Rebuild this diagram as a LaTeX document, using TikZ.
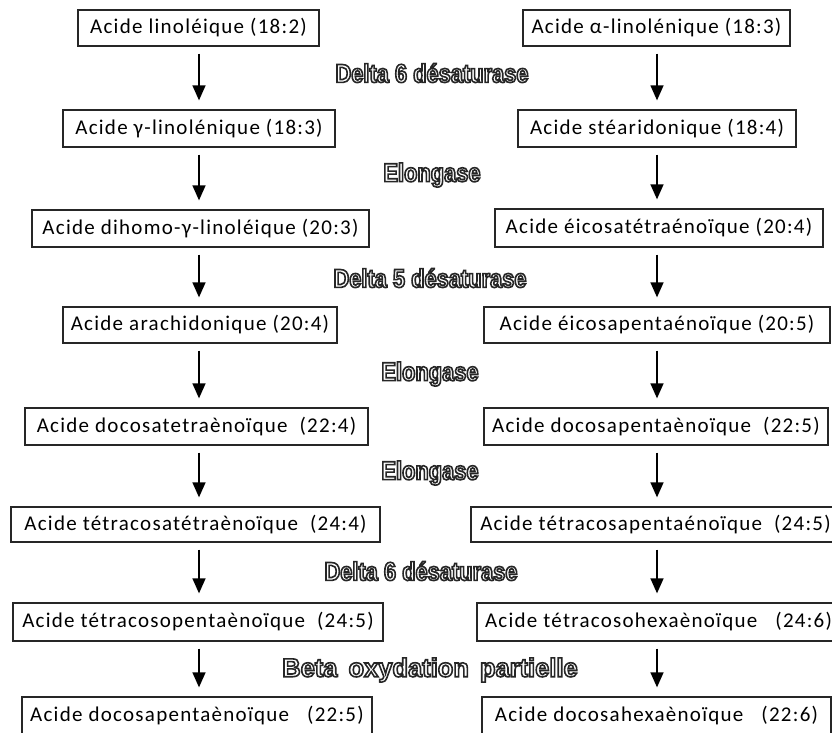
\documentclass[tikz,border=0pt]{standalone}
\usepackage{fontspec}
\usetikzlibrary{arrows.meta}
\setmainfont{Carlito}[LetterSpace=6]
\newfontfamily\enzfont{Liberation Sans}[FakeStretch=0.84]
\newfontfamily\enzfontwide{Liberation Sans}[FakeStretch=0.98]
\newcommand\enzlabel[1]{\special{pdf:literal direct 2 Tr 1.6 w 0.15 G 1 g}#1\special{pdf:literal direct 0 Tr 0 g 0 G 1 w}}
\tikzset{
  acidbox/.style={draw=black!85, line width=1.3pt, fill=white, inner sep=0pt,
    minimum height=36pt, font=\fontsize{21}{24}\selectfont, text=black},
  enzlbl/.style={inner sep=0pt, font=\enzfont\bfseries\fontsize{26}{28}\selectfont},
  enzlblwide/.style={inner sep=0pt, font=\enzfontwide\bfseries\fontsize{26}{28}\selectfont},
  conv/.style={line width=1.4pt, black, -{Triangle[width=13pt,length=15pt]},
    shorten <=7pt, shorten >=9pt}
}
\begin{document}
\begin{tikzpicture}[x=1pt,y=-1pt]
\useasboundingbox (0,0) rectangle (832,733);
\fill[white] (0,0) rectangle (832,733);
\coordinate (axL) at (199,0);
\coordinate (axR) at (657,0);
% left column
\node[acidbox, minimum width=241, minimum height=36] (L1) at (198.5,28) {Acide linoléique (18:2)};
\node[acidbox, minimum width=272, minimum height=37] (L2) at (199,128.5) {Acide γ-linolénique (18:3)};
\node[acidbox, minimum width=337, minimum height=37] (L3) at (200.5,228.5) {Acide dihomo-γ-linoléique (20:3)};
\node[acidbox, minimum width=274, minimum height=36] (L4) at (200,325) {Acide arachidonique (20:4)};
\node[acidbox, minimum width=343, minimum height=37] (L5) at (196.5,426.5) {Acide docosatetraènoïque~ (22:4)};
\node[acidbox, minimum width=369, minimum height=35] (L6) at (195.5,524.5) {Acide tétracosatétraènoïque~ (24:4)};
\node[acidbox, minimum width=370, minimum height=38] (L7) at (198,622) {Acide tétracosopentaènoïque~ (24:5)};
\node[acidbox, minimum width=350, minimum height=37] (L8) at (197,715.5) {Acide docosapentaènoïque~~ (22:5)};
% right column
\node[acidbox, minimum width=267, minimum height=36] (R1) at (656.5,28) {Acide α-linolénique (18:3)};
\node[acidbox, minimum width=278, minimum height=37] (R2) at (657,128.5) {Acide stéaridonique (18:4)};
\node[acidbox, minimum width=328, minimum height=38] (R3) at (659,228) {Acide éicosatétraénoïque (20:4)};
\node[acidbox, minimum width=346, minimum height=36] (R4) at (657,325) {Acide éicosapentaénoïque (20:5)};
\node[acidbox, minimum width=344, minimum height=37] (R5) at (656,426.5) {Acide docosapentaènoïque~ (22:5)};
\node[acidbox, minimum width=369, minimum height=35] (R6) at (655.5,524.5) {Acide tétracosapentaénoïque~ (24:5)};
\node[acidbox, minimum width=363, minimum height=38] (R7) at (658.5,622) {Acide tétracosohexaènoïque~~ (24:6)};
\node[acidbox, minimum width=349, minimum height=37] (R8) at (656.5,715.5) {Acide docosahexaènoïque~~ (22:6)};
% arrows
\foreach \a/\b in {L1/L2,L2/L3,L3/L4,L4/L5,L5/L6,L6/L7,L7/L8}
  \draw[conv] (\a.south -| axL) -- (\b.north -| axL);
\foreach \a/\b in {R1/R2,R2/R3,R3/R4,R4/R5,R5/R6,R6/R7,R7/R8}
  \draw[conv] (\a.south -| axR) -- (\b.north -| axR);
% enzyme labels
\node[enzlbl] (e1) at (432,73) {\enzlabel{Delta 6 désaturase}};
\node[enzlbl] (e2) at (432,175) {\enzlabel{Elongase}};
\node[enzlbl] (e3) at (430,278) {\enzlabel{Delta 5 désaturase}};
\node[enzlbl] (e4) at (430,374) {\enzlabel{Elongase}};
\node[enzlbl] (e5) at (430,473) {\enzlabel{Elongase}};
\node[enzlbl] (e6) at (421,571) {\enzlabel{Delta 6 désaturase}};
\node[enzlblwide] (e7) at (430,670) {\enzlabel{Beta\hspace{4pt} oxydation\hspace{4pt} partielle}};
\end{tikzpicture}
\end{document}
